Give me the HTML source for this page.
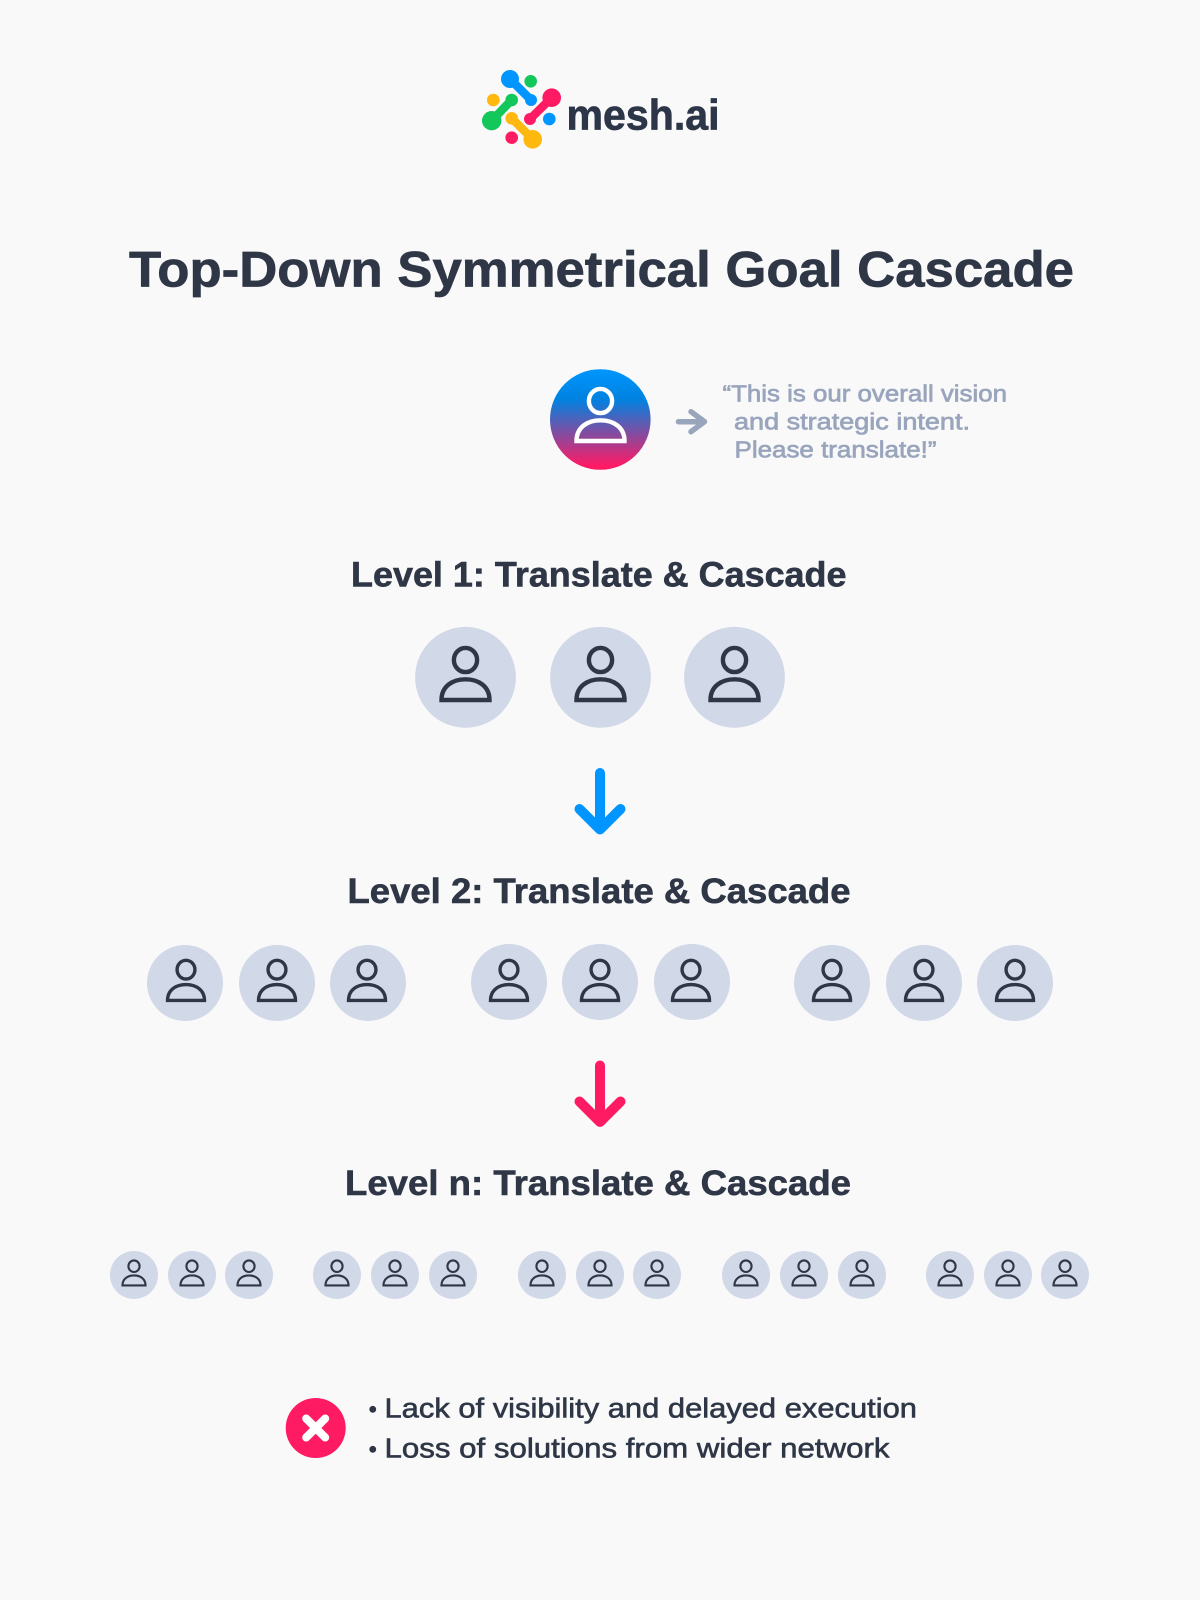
<!DOCTYPE html>
<html><head><meta charset="utf-8"><style>
html,body{margin:0;padding:0;background:#f9f9fa}
svg{display:block}
text{font-family:"Liberation Sans",sans-serif}
</style></head><body>
<svg width="1200" height="1600" viewBox="0 0 1200 1600" xmlns="http://www.w3.org/2000/svg">
<defs>
<linearGradient id="g" x1="0" y1="0" x2="0" y2="1"><stop offset="0" stop-color="#0096ff"/><stop offset=".3" stop-color="#0082e0"/><stop offset=".96" stop-color="#ff1a64"/></linearGradient>
<g id="p" fill="none" stroke-width="4.4"><ellipse cx="0" cy="-17.3" rx="11.6" ry="12.1"/><path d="M-24 22.7C-24 9-13 2 0 2S24 9 24 22.7Z"/></g>
<g id="a" fill="none" stroke-width="10" stroke-linecap="round" stroke-linejoin="round"><path d="M0 0V56M-20.500 36L0 56.500L20.500 36"/></g>
</defs>
<rect width="1200" height="1600" fill="#f9f9fa"/>

<!-- logo -->
<g stroke-width="8.500" stroke-linecap="round">
<line x1="510" y1="79" x2="531" y2="100" stroke="#0095ff"/><circle cx="510" cy="79" r="9" fill="#0095ff"/><circle cx="531" cy="100" r="6" fill="#0095ff"/>
<circle cx="530.700" cy="81.300" r="6.300" fill="#14c75a"/>
<line x1="551.700" y1="97.700" x2="530" y2="119" stroke="#ff1a64"/><circle cx="551.700" cy="97.700" r="9.300" fill="#ff1a64"/><circle cx="530" cy="119" r="6" fill="#ff1a64"/>
<circle cx="493.300" cy="100" r="6.300" fill="#ffb80d"/>
<line x1="511.700" y1="100" x2="491.700" y2="120.700" stroke="#14c75a"/><circle cx="511.700" cy="100" r="6.300" fill="#14c75a"/><circle cx="491.700" cy="120.700" r="9.700" fill="#14c75a"/>
<circle cx="549.300" cy="119" r="6.300" fill="#0095ff"/>
<line x1="511.700" y1="118.300" x2="532.700" y2="139.300" stroke="#ffb80d"/><circle cx="511.700" cy="118.300" r="6.300" fill="#ffb80d"/><circle cx="532.700" cy="139.300" r="9.300" fill="#ffb80d"/>
<circle cx="511.700" cy="137.700" r="6.300" fill="#ff1a64"/>
</g>
<text x="566.500" y="129.500" font-size="43" font-weight="700" fill="#2d3648" stroke="#2d3648" stroke-width=".7" textLength="153" lengthAdjust="spacingAndGlyphs">mesh.ai</text>

<text x="129" y="286.700" font-size="50" font-weight="700" fill="#2f3747" stroke="#2f3747" stroke-width=".7" textLength="945" lengthAdjust="spacingAndGlyphs">Top-Down Symmetrical Goal Cascade</text>

<!-- top person -->
<circle cx="600.300" cy="419.500" r="50.300" fill="url(#g)"/>
<use href="#p" transform="translate(600.500 418.300)" stroke="#fff"/>
<path d="M678.500 421.700H704M691 411.700L704.500 421.700L691 431.700" fill="none" stroke="#99a5bb" stroke-width="5.500" stroke-linecap="round" stroke-linejoin="round"/>
<g font-size="23.500" fill="#99a5bc" stroke="#99a5bc" stroke-width=".7">
<text x="722.500" y="401.700" textLength="284.500" lengthAdjust="spacingAndGlyphs">“This is our overall vision</text>
<text x="734" y="429.300" textLength="236" lengthAdjust="spacingAndGlyphs">and strategic intent.</text>
<text x="734.500" y="457.300" textLength="202" lengthAdjust="spacingAndGlyphs">Please translate!”</text>
</g>

<!-- headings -->
<g font-size="35.500" font-weight="700" fill="#2f3747" stroke="#2f3747" stroke-width=".6">
<text x="351" y="586.700" textLength="495.500" lengthAdjust="spacingAndGlyphs">Level 1: Translate &amp; Cascade</text>
<text x="347.500" y="903" textLength="503" lengthAdjust="spacingAndGlyphs">Level 2: Translate &amp; Cascade</text>
<text x="345" y="1195" textLength="506" lengthAdjust="spacingAndGlyphs">Level n: Translate &amp; Cascade</text>
</g>

<!-- level 1 -->
<g fill="#d1d8e7">
<circle cx="465.500" cy="677.300" r="50.400"/><circle cx="600.500" cy="677.300" r="50.400"/><circle cx="734.500" cy="677.300" r="50.400"/>
</g>
<g stroke="#2f3747">
<use href="#p" transform="translate(465.500 677.300)"/><use href="#p" transform="translate(600.500 677.300)"/><use href="#p" transform="translate(734.500 677.300)"/>
</g>

<use href="#a" transform="translate(600 773)" stroke="#0095ff"/>

<!-- level 2 -->
<g fill="#d1d8e7">
<circle cx="185" cy="983" r="38"/><circle cx="277" cy="983" r="38"/><circle cx="368" cy="983" r="38"/>
<circle cx="509" cy="982" r="38"/><circle cx="600" cy="982" r="38"/><circle cx="692" cy="982" r="38"/>
<circle cx="832" cy="983" r="38"/><circle cx="924" cy="983" r="38"/><circle cx="1015" cy="983" r="38"/>
</g>
<g stroke="#2f3747">
<use href="#p" transform="translate(186 983) scale(.77)"/><use href="#p" transform="translate(277 983) scale(.77)"/><use href="#p" transform="translate(367 983) scale(.77)"/>
<use href="#p" transform="translate(509 983) scale(.77)"/><use href="#p" transform="translate(600 983) scale(.77)"/><use href="#p" transform="translate(691 983) scale(.77)"/>
<use href="#p" transform="translate(832 983) scale(.77)"/><use href="#p" transform="translate(924 983) scale(.77)"/><use href="#p" transform="translate(1015 983) scale(.77)"/>
</g>

<use href="#a" transform="translate(600 1065.500)" stroke="#ff1a64"/>

<!-- level n -->
<g fill="#d1d8e7">
<circle cx="134" cy="1275" r="24"/><circle cx="192" cy="1275" r="24"/><circle cx="249" cy="1275" r="24"/>
<circle cx="337" cy="1275" r="24"/><circle cx="395" cy="1275" r="24"/><circle cx="453" cy="1275" r="24"/>
<circle cx="542" cy="1275" r="24"/><circle cx="600" cy="1275" r="24"/><circle cx="657" cy="1275" r="24"/>
<circle cx="746" cy="1275" r="24"/><circle cx="804" cy="1275" r="24"/><circle cx="862" cy="1275" r="24"/>
<circle cx="950" cy="1275" r="24"/><circle cx="1008" cy="1275" r="24"/><circle cx="1065" cy="1275" r="24"/>
</g>
<g stroke="#2f3747">
<use href="#p" transform="translate(134 1274.500) scale(.48)"/><use href="#p" transform="translate(192 1274.500) scale(.48)"/><use href="#p" transform="translate(249 1274.500) scale(.48)"/>
<use href="#p" transform="translate(337 1274.500) scale(.48)"/><use href="#p" transform="translate(395 1274.500) scale(.48)"/><use href="#p" transform="translate(453 1274.500) scale(.48)"/>
<use href="#p" transform="translate(542 1274.500) scale(.48)"/><use href="#p" transform="translate(600 1274.500) scale(.48)"/><use href="#p" transform="translate(657 1274.500) scale(.48)"/>
<use href="#p" transform="translate(746 1274.500) scale(.48)"/><use href="#p" transform="translate(804 1274.500) scale(.48)"/><use href="#p" transform="translate(862 1274.500) scale(.48)"/>
<use href="#p" transform="translate(950 1274.500) scale(.48)"/><use href="#p" transform="translate(1008 1274.500) scale(.48)"/><use href="#p" transform="translate(1065 1274.500) scale(.48)"/>
</g>

<!-- bottom -->
<circle cx="315.700" cy="1428" r="30" fill="#ff1a64"/>
<path d="M306.200 1418.500L325.200 1437.500M325.200 1418.500L306.200 1437.500" stroke="#fff" stroke-width="8" stroke-linecap="round"/>
<g font-size="27.500" fill="#2f3747" stroke="#2f3747" stroke-width=".6">
<text x="368.700" y="1416.800" font-size="23">•</text>
<text x="368.700" y="1456.800" font-size="23">•</text>
<text x="384.500" y="1417.300" textLength="532.500" lengthAdjust="spacingAndGlyphs">Lack of visibility and delayed execution</text>
<text x="384.500" y="1457.300" textLength="505" lengthAdjust="spacingAndGlyphs">Loss of solutions from wider network</text>
</g>
</svg>
</body></html>
